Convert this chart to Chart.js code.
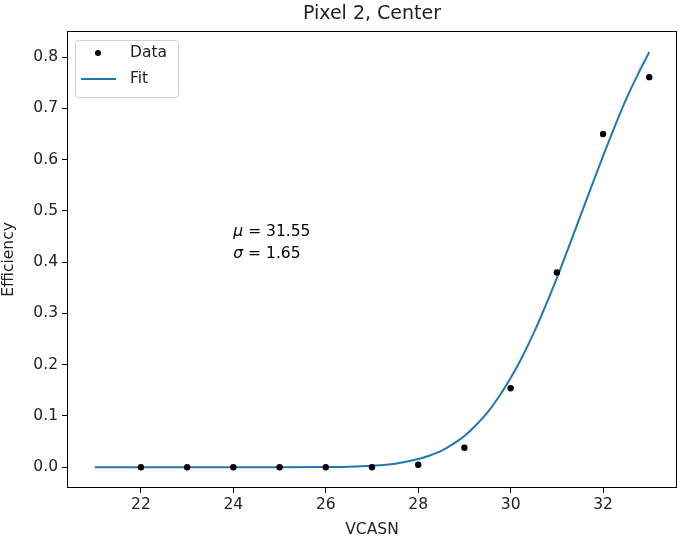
<!DOCTYPE html>
<html><head><meta charset="utf-8">
<script src="https://cdn.jsdelivr.net/npm/chart.js@4/dist/chart.umd.min.js"></script>
<style>html,body{margin:0;padding:0;background:#fff}canvas{display:block}</style>
</head><body>
<canvas id="c" width="681" height="539"></canvas>
<script>
const dataX = [22, 23, 24, 25, 26, 27, 28, 29, 30, 31, 32, 33];
const dataY = [0.0, 0.0, 0.0, 0.0, 0.0, 0.0, 0.005, 0.038, 0.154, 0.38, 0.65, 0.761];
const fitX = [21, 22, 23, 24, 25, 26, 26.5, 27, 27.5, 28, 28.25, 28.5, 28.75, 29, 29.25, 29.5, 29.75, 30, 30.25, 30.5, 30.75, 31, 31.25, 31.5, 31.75, 32, 32.25, 32.5, 32.75, 33];
const fitY = [0.0, 0.0, 0.0, 0.0, 0.0, 0.0004, 0.001, 0.003, 0.007, 0.016, 0.023, 0.032, 0.045, 0.061, 0.082, 0.107, 0.138, 0.174, 0.215, 0.262, 0.314, 0.369, 0.428, 0.488, 0.548, 0.607, 0.664, 0.718, 0.766, 0.81];
const xTicks = [22, 24, 26, 28, 30, 32];
const yTicks = [0.0, 0.1, 0.2, 0.3, 0.4, 0.5, 0.6, 0.7, 0.8];
const titleText = "Pixel 2, Center";
const xLabel = "VCASN";
const yLabel = "Efficiency";
const legendLabels = ["Data", "Fit"];
const muText = "31.55";
const sigmaText = "1.65";

const FONT = "'DejaVu Sans', sans-serif";
const BLUE = "#1f77b4";
const FS = 15.5;

const overlay = {
  id: 'overlay',
  afterDraw(chart) {
    const ctx = chart.ctx, a = chart.chartArea;
    const xs = chart.scales.x, ys = chart.scales.y;
    ctx.save();
    // frame
    ctx.strokeStyle = '#000';
    ctx.lineWidth = 1;
    ctx.strokeRect(a.left + 0.5, a.top + 0.5, a.right - a.left - 1, a.bottom - a.top - 1);
    // title
    ctx.fillStyle = '#222';
    ctx.font = "19px " + FONT;
    ctx.textAlign = 'center';
    ctx.textBaseline = 'middle';
    ctx.fillText(titleText, (a.left + a.right) / 2, 14);
    // annotation
    const tx = xs.getPixelForValue(24), ty = ys.getPixelForValue(0.4) - 4;
    ctx.textAlign = 'left';
    ctx.textBaseline = 'alphabetic';
    ctx.fillStyle = '#000';
    ctx.font = "italic " + FS + "px " + FONT;
    ctx.fillText("\u03bc", tx, ty - 22);
    ctx.fillText("\u03c3", tx, ty);
    const w1 = ctx.measureText("\u03bc").width, w2 = ctx.measureText("\u03c3").width;
    ctx.font = FS + "px " + FONT;
    ctx.fillText(" = " + muText, tx + w1, ty - 22);
    ctx.fillText(" = " + sigmaText, tx + w2, ty);
    // legend
    const lx = a.left + 8, ly = a.top + 9, lw = 103, lh = 57;
    ctx.fillStyle = 'rgba(255,255,255,0.8)';
    ctx.strokeStyle = '#d0d0d0';
    ctx.lineWidth = 1;
    ctx.beginPath();
    ctx.roundRect(lx + 0.5, ly + 0.5, lw, lh, 3);
    ctx.fill(); ctx.stroke();
    ctx.fillStyle = '#000';
    ctx.beginPath();
    ctx.arc(lx + 23, ly + 13, 3, 0, Math.PI * 2);
    ctx.fill();
    ctx.strokeStyle = BLUE;
    ctx.lineWidth = 2;
    ctx.beginPath();
    ctx.moveTo(lx + 6, ly + 39); ctx.lineTo(lx + 41, ly + 39);
    ctx.stroke();
    ctx.fillStyle = '#222';
    ctx.font = FS + "px " + FONT;
    ctx.textBaseline = 'middle';
    ctx.fillText(legendLabels[0], lx + 55, ly + 13);
    ctx.fillText(legendLabels[1], lx + 55, ly + 39);
    ctx.restore();
  }
};

new Chart(document.getElementById('c'), {
  type: 'line',
  data: {
    datasets: [
      {
        label: legendLabels[0],
        data: dataX.map((x, i) => ({ x: x, y: dataY[i] })),
        showLine: false,
        pointRadius: 3.2,
        pointBackgroundColor: '#000',
        pointBorderWidth: 0,
        order: 0
      },
      {
        label: legendLabels[1],
        data: fitX.map((x, i) => ({ x: x, y: fitY[i] })),
        borderColor: BLUE,
        borderWidth: 2,
        pointRadius: 0,
        cubicInterpolationMode: 'monotone',
        fill: false,
        order: 1
      }
    ]
  },
  options: {
    responsive: false,
    animation: false,
    layout: { padding: { top: 31, right: 1, left: 0, bottom: 0 } },
    plugins: { legend: { display: false }, tooltip: { enabled: false }, title: { display: false } },
    scales: {
      x: {
        type: 'linear',
        min: 20.4, max: 33.6,
        afterBuildTicks: s => { s.ticks = xTicks.map(v => ({ value: v })); },
        afterFit: s => { s.height = 51; },
        grid: { drawOnChartArea: false, drawTicks: true, tickLength: 5, color: '#000', tickWidth: 1 },
        border: { display: false },
        ticks: { color: '#222', font: { family: FONT, size: FS }, padding: 3, maxRotation: 0, callback: v => String(v) },
        title: { display: true, text: xLabel, color: '#222', font: { family: FONT, size: FS }, padding: { top: 0, bottom: 0 } }
      },
      y: {
        type: 'linear',
        min: -0.0405, max: 0.851,
        afterBuildTicks: s => { s.ticks = yTicks.map(v => ({ value: v })); },
        afterFit: s => { s.width = 67; },
        grid: { drawOnChartArea: false, drawTicks: true, tickLength: 5, color: '#000', tickWidth: 1 },
        border: { display: false },
        ticks: { color: '#222', font: { family: FONT, size: FS }, padding: 4, callback: v => v.toFixed(1) },
        title: { display: true, text: yLabel, color: '#222', font: { family: FONT, size: FS }, padding: { top: 0, bottom: 2 } }
      }
    }
  },
  plugins: [overlay]
});
</script>
</body></html>
